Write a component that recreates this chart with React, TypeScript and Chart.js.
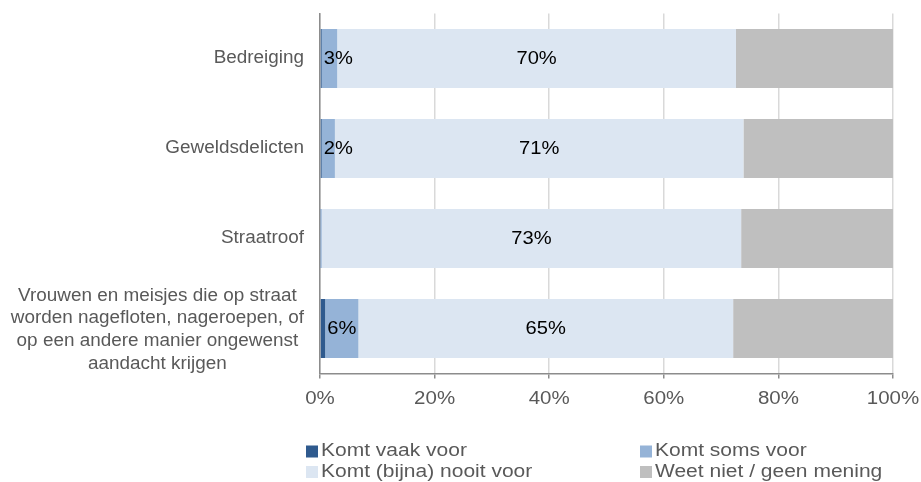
import React, { useEffect, useRef } from "react";
import { Chart, registerables } from "chart.js";

Chart.register(...registerables);

const CATEGORIES: string[][] = [
  ["Bedreiging"],
  ["Geweldsdelicten"],
  ["Straatroof"],
  [
    "Vrouwen en meisjes die op straat",
    "worden nagefloten, nageroepen, of",
    "op een andere manier ongewenst",
    "aandacht krijgen",
  ],
];

const SERIES_NAMES = [
  "Komt vaak voor",
  "Komt soms voor",
  "Komt (bijna) nooit voor",
  "Weet niet / geen mening",
];

const VAAK = [0.3, 0.3, 0.1, 0.9];
const SOMS = [2.7, 2.3, 0.2, 5.8];
const NOOIT = [69.6, 71.3, 73.2, 65.4];
const WEET = [27.4, 26.1, 26.5, 27.9];

const SERIES_VALUES = [VAAK, SOMS, NOOIT, WEET];
const SERIES_COLORS = ["#2f5a8e", "#95b3d7", "#dce6f2", "#bfbfbf"];
const SHOW_LABELS = [false, true, true, false];

const TICK_VALUES = [0, 20, 40, 60, 80, 100];
const TICK_LABELS = ["0%", "20%", "40%", "60%", "80%", "100%"];

const FONT = '17.5px "Liberation Sans", Arial, sans-serif';
const GREY_TEXT = "#595959";

function drawStretched(
  ctx: CanvasRenderingContext2D,
  text: string,
  x: number,
  y: number,
  align: CanvasTextAlign,
  sx: number
) {
  ctx.save();
  ctx.translate(x, y);
  ctx.scale(sx, 1);
  ctx.textAlign = align;
  ctx.fillText(text, 0, 0);
  ctx.restore();
}

const textPlugin = {
  id: "customText",
  afterDraw(chart: any) {
    const ctx: CanvasRenderingContext2D = chart.ctx;
    const xScale = chart.scales.x;
    const yScale = chart.scales.y;
    ctx.save();
    ctx.font = FONT;
    ctx.textBaseline = "middle";

    // category labels
    ctx.fillStyle = GREY_TEXT;
    const catSx = 1.08;
    const blockRight = chart.chartArea.left - 16;
    const lh = 22.7;
    CATEGORIES.forEach((lines, i) => {
      const yc = yScale.getPixelForValue(i) + (lines.length > 1 ? 1.5 : 0);
      const widths = lines.map((l) => ctx.measureText(l).width * catSx);
      const maxW = Math.max(...widths);
      const cx = blockRight - maxW / 2;
      const y0 = yc - ((lines.length - 1) / 2) * lh;
      lines.forEach((l, k) => {
        drawStretched(ctx, l, cx, y0 + k * lh, "center", catSx);
      });
    });

    // x tick labels
    const tickY = chart.chartArea.bottom + 25.5;
    TICK_VALUES.forEach((v, i) => {
      drawStretched(ctx, TICK_LABELS[i], xScale.getPixelForValue(v), tickY, "center", 1.17);
    });

    // data labels
    ctx.fillStyle = "#000000";
    const dlSx = 1.15;
    SERIES_VALUES.forEach((vals, si) => {
      if (!SHOW_LABELS[si]) return;
      const meta = chart.getDatasetMeta(si);
      vals.forEach((v, j) => {
        if (v < 1) return;
        const el = meta.data[j];
        const p = el.getProps(["x", "base", "y"], true);
        const start = Math.min(p.x, p.base);
        const end = Math.max(p.x, p.base);
        const txt = Math.round(v) + "%";
        const w = ctx.measureText(txt).width * dlSx;
        const cx = Math.max((start + end) / 2, start + w / 2 + 2);
        drawStretched(ctx, txt, cx, p.y + 1, "center", dlSx);
      });
    });

    // legend
    const legSx = 1.2;
    const colX = [306, 640];
    const rowY = [451.5, 472];
    SERIES_NAMES.forEach((name, i) => {
      const cx = colX[i % 2];
      const cy = rowY[Math.floor(i / 2)];
      ctx.fillStyle = SERIES_COLORS[i];
      ctx.fillRect(cx, cy - 6, 12, 12);
      ctx.fillStyle = GREY_TEXT;
      drawStretched(ctx, name, cx + 15, cy, "left", legSx);
    });

    ctx.restore();
  },
};

export default function App() {
  const canvasRef = useRef<HTMLCanvasElement | null>(null);

  useEffect(() => {
    if (!canvasRef.current) return;
    const chart = new Chart(canvasRef.current, {
      type: "bar",
      data: {
        labels: CATEGORIES.map((c) => c.join(" ")),
        datasets: SERIES_NAMES.map((name, i) => ({
          label: name,
          data: SERIES_VALUES[i],
          backgroundColor: SERIES_COLORS[i],
          borderWidth: 0,
          barPercentage: 0.656,
          categoryPercentage: 1,
        })),
      },
      options: {
        indexAxis: "y",
        animation: false,
        responsive: true,
        maintainAspectRatio: false,
        layout: { padding: { top: 13.5, right: 28, left: 0, bottom: 0 } },
        plugins: {
          legend: { display: false },
          tooltip: { enabled: false },
        },
        scales: {
          x: {
            stacked: true,
            min: 0,
            max: 100,
            ticks: { display: false, stepSize: 20 },
            grid: {
              color: "#d9d9d9",
              lineWidth: 1.5,
              tickLength: 5,
              tickColor: "#8c8c8c",
              drawTicks: true,
            },
            border: { display: true, color: "#8c8c8c", width: 1.5 },
            afterFit: (scale: any) => {
              scale.height = 108.5;
            },
          },
          y: {
            stacked: true,
            ticks: { display: false },
            grid: { display: false, drawTicks: false },
            border: { display: true, color: "#8c8c8c", width: 1.5 },
            afterFit: (scale: any) => {
              scale.width = 320;
            },
          },
        },
      } as any,
      plugins: [textPlugin],
    });
    return () => chart.destroy();
  }, []);

  return (
    <div
      style={{
        position: "absolute",
        left: 0,
        top: 0,
        width: "921px",
        height: "482px",
      }}
    >
      <canvas ref={canvasRef} />
    </div>
  );
}
